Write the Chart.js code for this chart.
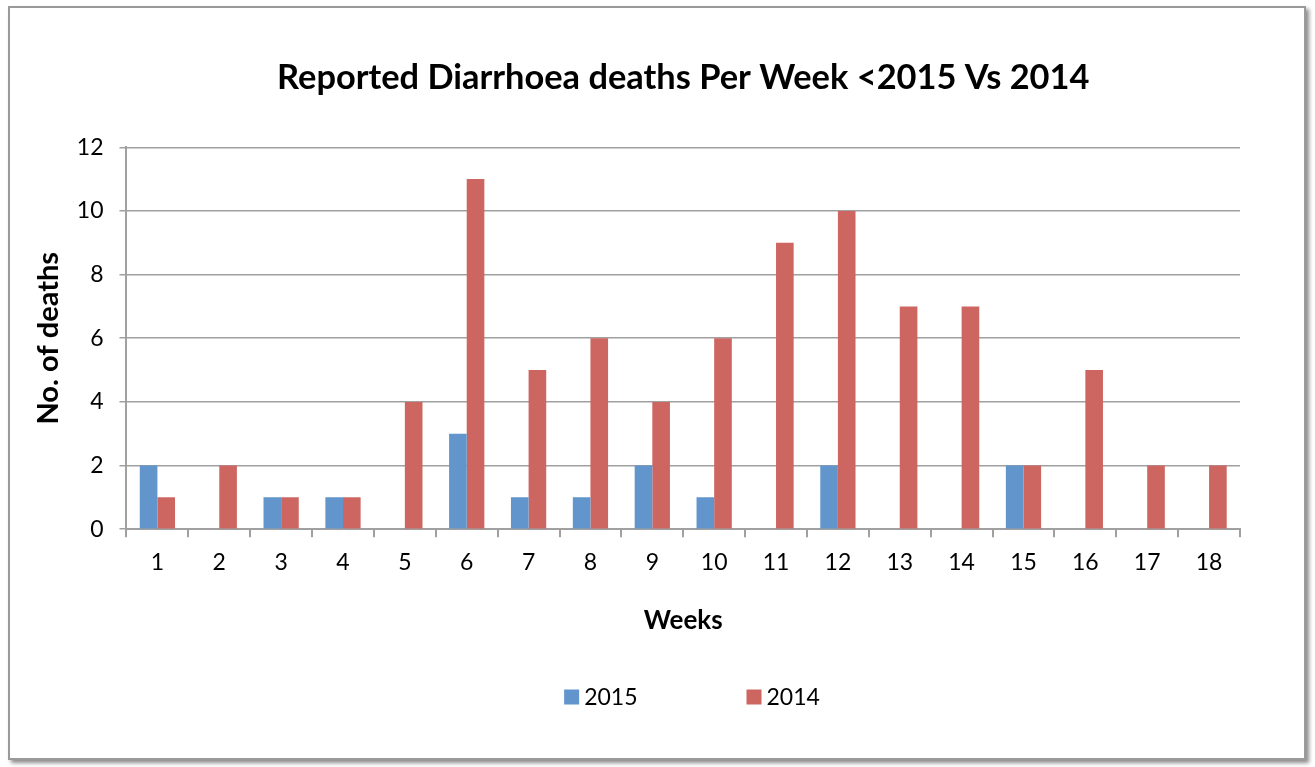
<!DOCTYPE html>
<html>
<head>
<meta charset="utf-8">
<script src="https://cdn.jsdelivr.net/npm/chart.js@4"></script>
<style>
  html, body { margin: 0; padding: 0; background: #fff; }
  #frame {
    position: absolute; left: 8px; top: 6px; width: 1294px; height: 750px;
    border: 2px solid #9a9a9a; box-shadow: 3px 3px 4px rgba(0,0,0,0.45);
  }
  #myBarChart { position: absolute; left: 0; top: 0; }
</style>
</head>
<body>
<div id="frame"></div>
<canvas id="myBarChart" width="1315" height="767"></canvas>
<script>
const weeks = ['1','2','3','4','5','6','7','8','9','10','11','12','13','14','15','16','17','18']
const deaths2015 = [2, 0, 1, 1, 0, 3, 1, 1, 2, 1, 0, 2, 0, 0, 2, 0, 0, 0]
const deaths2014 = [1, 2, 1, 1, 4, 11, 5, 6, 4, 6, 9, 10, 7, 7, 2, 5, 2, 2]

const font = 'Lato'

// excel style legend, items spread wide apart
const wideLegend = {
    id: 'wideLegend',
    afterDraw(chart) {
        const c = chart.ctx
        const sets = chart.data.datasets
        const box = 15, gap = 5, spread = 109
        c.save()
        c.font = '23px ' + font
        c.textBaseline = 'middle'
        let widths = sets.map(d => box + gap + c.measureText(d.label).width)
        let total = widths.reduce((a, b) => a + b, 0) + spread * (sets.length - 1)
        let x = 692 - total / 2
        const y = 697
        sets.forEach((d, i) => {
            c.fillStyle = d.backgroundColor
            c.fillRect(x, y - box / 2, box, box)
            c.fillStyle = '#000'
            c.fillText(d.label, x + box + gap, y + 1)
            x += widths[i] + spread
        })
        c.restore()
    }
}

let ctx = document.getElementById('myBarChart').getContext('2d');
let chart = new Chart(ctx, {
    type: 'bar',
    data: {
        labels: weeks,
        datasets: [
            { label: '2015', data: deaths2015, backgroundColor: '#6195cb' },
            { label: '2014', data: deaths2014, backgroundColor: '#cd6661' }
        ]
    },
    options: {
        responsive: false,
        animation: false,
        categoryPercentage: 0.57,
        barPercentage: 1.0,
        layout: { padding: { left: 31, right: 75, top: 0, bottom: 131 } },
        plugins: {
            title: {
                display: true,
                fullSize: false,
                text: 'Reported Diarrhoea deaths Per Week <2015 Vs 2014',
                color: '#000',
                font: { family: font, size: 34.4, weight: 'bold' },
                padding: { top: 57, bottom: 49 }
            },
            legend: { display: false },
            tooltip: { enabled: false }
        },
        scales: {
            x: {
                grid: { display: true, drawOnChartArea: false, color: '#a0a0a0', lineWidth: 2, tickLength: 8 },
                border: { color: '#a0a0a0', width: 2 },
                ticks: { color: '#000', font: { family: font, size: 23 }, padding: 12 },
                title: {
                    display: true, text: 'Weeks', color: '#000',
                    font: { family: font, size: 26, weight: 'bold' },
                    padding: { top: 16, bottom: 0 }
                }
            },
            y: {
                min: 0, max: 12,
                grid: { color: '#a0a0a0', lineWidth: 1.5, tickLength: 7 },
                border: { color: '#a0a0a0', width: 2 },
                ticks: { stepSize: 2, color: '#000', font: { family: font, size: 23 }, padding: 16 },
                title: {
                    display: true, text: 'No. of deaths', color: '#000',
                    font: { family: font, size: 29, weight: 'bold' },
                    padding: { top: 0, bottom: -5 }
                }
            }
        }
    },
    plugins: [wideLegend]
});
</script>
</body>
</html>
